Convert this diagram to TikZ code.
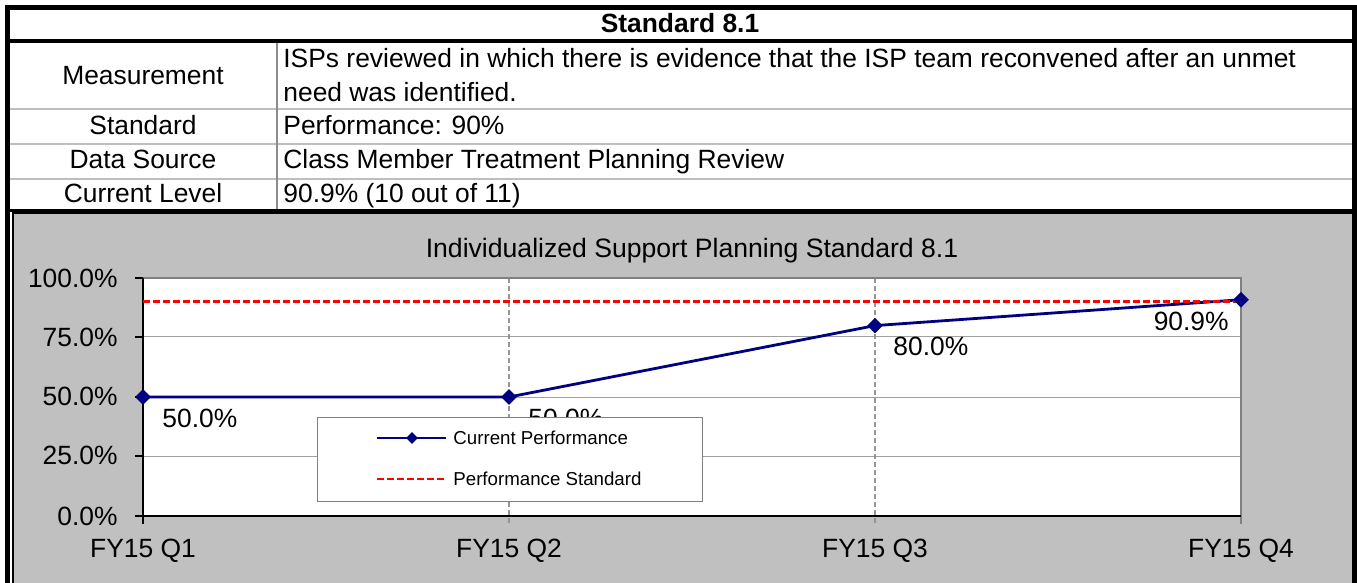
\documentclass[tikz,border=0pt]{standalone}
\usepackage{fontspec}
\setmainfont{Liberation Sans}
\usepackage{xcolor}
\usetikzlibrary{shapes,arrows}

\definecolor{chartgray}{RGB}{192,192,192}
\definecolor{rulegray}{RGB}{190,190,190}
\definecolor{divgray}{RGB}{140,140,140}
\definecolor{gridgray}{RGB}{160,160,160}
\definecolor{navy}{RGB}{0,0,128}

\begin{document}
\begin{tikzpicture}[x=0.5pt,y=-0.5pt,
	every node/.style={inner sep=0pt,font=\fontsize{13.2}{12}\selectfont},
	pt/.style={diamond,fill=navy,minimum size=8pt},
	lg/.style={font=\fontsize{9.35}{11}\selectfont}]
	\useasboundingbox[fill=white] (0,0) rectangle (1357,583);
	% chart background
	\fill[chartgray] (13,213) rectangle (1352,583);
	\draw[line width=1pt] (13,583) -- (13,213) -- (1352,213);
	% table rules
	\draw[rulegray,line width=1.2pt] (9,109) -- (1352,109) (9,144) -- (1352,144) (9,179) -- (1352,179);
	\draw[divgray,line width=1pt] (277,42) -- (277,211);
	\draw[line width=1.8pt] (9,41) -- (1352,41);
	\draw[line width=1.5pt] (9,211) -- (1352,211);
	\draw[line width=2.5pt] (7.5,583) -- (7.5,8) -- (1354.5,8) -- (1354.5,583);
	% table text
	\node[anchor=base,font=\fontsize{13.2}{12}\selectfont\bfseries] (H) at (680,33) {Standard 8.1};
	\node[anchor=base] (M) at (143,85) {Measurement};
	\node[anchor=base] (S) at (143,135) {Standard};
	\node[anchor=base] (D) at (143,169) {Data Source};
	\node[anchor=base] (C) at (143,203) {Current Level};
	\node[anchor=north west,align=left,font=\fontsize{13.2}{17}\selectfont] (M') at (283,48) {ISPs reviewed in which there is evidence that the ISP team reconvened after an unmet\\need was identified.};
	\node[anchor=base west] (S') at (283,135) {Performance: 90\%};
	\node[anchor=base west] (D') at (283,169) {Class Member Treatment Planning Review};
	\node[anchor=base west] (C') at (283,203) {90.9\% (10 out of 11)};
	% plot area
	\fill[white] (143,278) rectangle (1241,516);
	\draw[gridgray,line width=0.5pt] (143,337) -- (1241,337) (143,397) -- (1241,397) (143,456) -- (1241,456);
	\draw[gray!85,line width=1pt,dash pattern=on 2.5pt off 1.5pt] (509,278) -- (509,524) (875,278) -- (875,524);
	\draw[gray,line width=1pt] (143,278) -- (1241,278) -- (1241,524);
	\draw[line width=0.8pt] (143,278) -- (143,524) (143,516) -- (1241,516);
	\draw[line width=0.8pt] (135,278) -- (143,278) (135,337) -- (143,337) (135,397) -- (143,397) (135,456) -- (143,456) (135,516) -- (143,516);
	% title and axis labels
	\node[anchor=base,font=\fontsize{13.3}{12}\selectfont] (T) at (692,257) {Individualized Support Planning Standard 8.1};
	\node[anchor=base east] (Y100) at (118,287) {100.0\%};
	\node[anchor=base east] (Y75) at (118,346) {75.0\%};
	\node[anchor=base east] (Y50) at (118,406) {50.0\%};
	\node[anchor=base east] (Y25) at (118,465) {25.0\%};
	\node[anchor=base east] (Y0) at (118,525) {0.0\%};
	\node[anchor=base] (X1) at (143,557) {FY15 Q1};
	\node[anchor=base] (X2) at (509,557) {FY15 Q2};
	\node[anchor=base] (X3) at (875,557) {FY15 Q3};
	\node[anchor=base] (X4) at (1241,557) {FY15 Q4};
	% data
	\coordinate (P1) at (143,397);
	\coordinate (P2) at (509,397);
	\coordinate (P3) at (875,325.6);
	\coordinate (P4) at (1241,299.7);
	\coordinate (R1) at (143,301.8);
	\coordinate (R4) at (1241,301.8);
	\draw[navy,line width=1.4pt] (P1) -- (P2) -- (P3) -- (P4);
	\draw[red,line width=1.3pt,dash pattern=on 3.5pt off 1.5pt] (R1) -- (R4);
	\node[pt] (Q1) at (P1) {};
	\node[pt] (Q2) at (P2) {};
	\node[pt] (Q3) at (P3) {};
	\node[pt] (Q4) at (P4) {};
	\node[anchor=base west] (V1) at (162,427) {50.0\%};
	\node[anchor=base west] (V2) at (528,427) {50.0\%};
	\node[anchor=base west] (V3) at (893,356) {80.0\%};
	\node[anchor=base east] (V4) at (1229,330) {90.9\%};
	% legend
	\filldraw[fill=white,draw=gray,line width=0.5pt] (317,417) rectangle (702,501);
	\coordinate (La) at (377,438);
	\coordinate (Lb) at (446,438);
	\coordinate (Lc) at (377,479);
	\coordinate (Ld) at (446,479);
	\draw[navy,line width=1.4pt] (La) -- (Lb);
	\node[pt,minimum size=6pt] (LQ) at (412,438) {};
	\draw[red,line width=1.3pt,dash pattern=on 3.5pt off 1.5pt] (Lc) -- (Ld);
	\node[lg,anchor=west] (L1) at (453,438) {Current Performance};
	\node[lg,anchor=west] (L2) at (453,479) {Performance Standard};
\end{tikzpicture}
\end{document}
